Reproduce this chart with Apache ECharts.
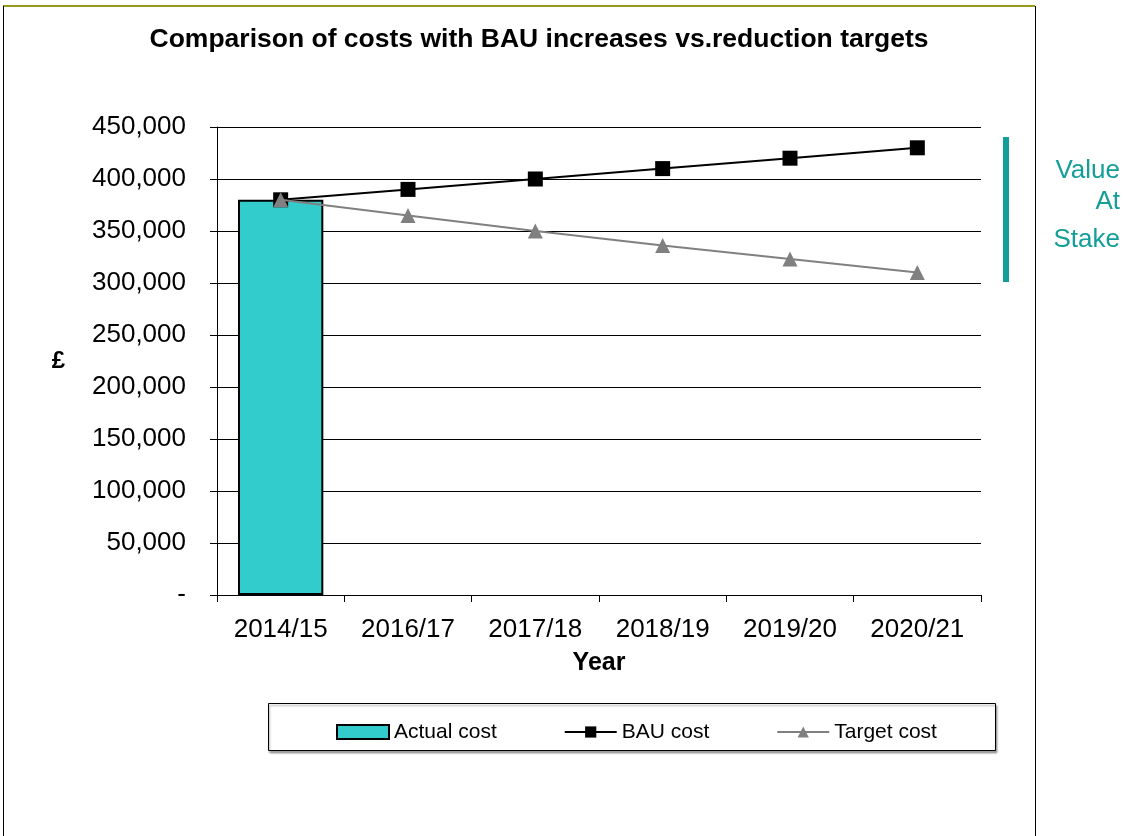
<!DOCTYPE html>
<html>
<head>
<meta charset="utf-8">
<script src="https://cdn.jsdelivr.net/npm/echarts@6/dist/echarts.min.js"></script>
<style>
  html, body { margin: 0; padding: 0; background: #fff; }
  #chart { width: 1123px; height: 836px; }
</style>
</head>
<body>
<div id="chart"></div>
<script>
const years = ['2014/15', '2016/17', '2017/18', '2018/19', '2019/20', '2020/21']
const actualCost = [380000, null, null, null, null, null]
const bauCost = [380000, 390000, 400000, 410000, 420000, 430000]
const targetCost = [380000, 365000, 350000, 336000, 323000, 310000]

const font = "'Liberation Sans', Arial, sans-serif"
const teal = '#139e99'

const chart = echarts.init(document.getElementById('chart'), null, { renderer: 'canvas' })

const option = {
  backgroundColor: '#fff',
  animation: false,
  textStyle: { fontFamily: font },
  title: {
    text: 'Comparison of costs with BAU increases vs.reduction targets',
    left: 534,
    textAlign: 'center',
    top: 21,
    textStyle: {
      fontFamily: font,
      fontSize: 26.5,
      fontWeight: 'bold',
      color: '#000'
    }
  },
  legend: {
    data: [
      { name: 'Actual cost', icon: 'rect' },
      'BAU cost',
      'Target cost'
    ],
    left: 331,
    top: 716,
    itemWidth: 52,
    itemHeight: 14,
    itemGap: 67,
    lineStyle: { width: 2 },
    textStyle: {
      fontFamily: font,
      fontSize: 21,
      lineHeight: 22,
      color: '#000'
    }
  },
  grid: {
    left: 217,
    right: 142,
    top: 127,
    bottom: 241,
    containLabel: false
  },
  xAxis: {
    type: 'category',
    data: years,
    boundaryGap: true,
    name: 'Year',
    nameLocation: 'middle',
    nameGap: 56,
    nameTextStyle: {
      fontFamily: font,
      fontSize: 25,
      fontWeight: 'bold',
      color: '#000'
    },
    axisLine: { lineStyle: { color: '#000', width: 1 } },
    axisTick: { show: true, alignWithLabel: false, length: 7, lineStyle: { color: '#000' } },
    axisLabel: {
      fontFamily: font,
      fontSize: 26,
      color: '#000',
      margin: 22
    },
    splitLine: { show: false }
  },
  yAxis: {
    type: 'value',
    min: 0,
    max: 450000,
    interval: 50000,
    name: '£',
    nameLocation: 'middle',
    nameRotate: 0,
    nameGap: 152,
    nameTextStyle: {
      fontFamily: font,
      fontSize: 24,
      fontWeight: 'bold',
      color: '#000'
    },
    axisLine: { show: true, lineStyle: { color: '#000', width: 1 } },
    axisTick: { show: true, length: 7, lineStyle: { color: '#000' } },
    axisLabel: {
      fontFamily: font,
      fontSize: 26,
      color: '#000',
      margin: 31,
      formatter: (v) => v === 0 ? '-' : v.toLocaleString('en-GB')
    },
    splitLine: { show: true, lineStyle: { color: '#000', width: 1 } }
  },
  series: [
    {
      name: 'Actual cost',
      type: 'bar',
      data: actualCost,
      barWidth: '67%',
      itemStyle: { color: '#33cccc', borderColor: '#000', borderWidth: 2 },
      z: 2
    },
    {
      name: 'BAU cost',
      type: 'line',
      data: bauCost,
      symbol: 'rect',
      symbolSize: 15,
      lineStyle: { color: '#000', width: 2 },
      itemStyle: { color: '#000' },
      z: 3
    },
    {
      name: 'Target cost',
      type: 'line',
      data: targetCost,
      symbol: 'triangle',
      symbolSize: 15,
      lineStyle: { color: '#808080', width: 2 },
      itemStyle: { color: '#808080' },
      z: 4
    }
  ],
  graphic: [
    // outer frame
    { type: 'line', shape: { x1: 3, y1: 6, x2: 1035, y2: 6 }, style: { stroke: '#9a9a1a', lineWidth: 2 } },
    { type: 'line', shape: { x1: 3.5, y1: 6, x2: 3.5, y2: 836 }, style: { stroke: '#000', lineWidth: 1 } },
    { type: 'line', shape: { x1: 1035.5, y1: 6, x2: 1035.5, y2: 836 }, style: { stroke: '#000', lineWidth: 1 } },
    // legend box
    {
      type: 'rect',
      z: -1,
      shape: { x: 268.5, y: 703.5, width: 727, height: 47 },
      style: { fill: '#fff', stroke: '#000', lineWidth: 1, shadowColor: 'rgba(0,0,0,0.35)', shadowOffsetX: 1, shadowOffsetY: 2, shadowBlur: 2 }
    },
    // value at stake annotation
    { type: 'rect', shape: { x: 1003, y: 137, width: 6, height: 145 }, style: { fill: teal } },
    { type: 'text', x: 1120, y: 171, style: { text: 'Value', fill: teal, font: "26px 'Liberation Sans', Arial, sans-serif", align: 'right', verticalAlign: 'middle' } },
    { type: 'text', x: 1120, y: 202, style: { text: 'At', fill: teal, font: "26px 'Liberation Sans', Arial, sans-serif", align: 'right', verticalAlign: 'middle' } },
    { type: 'text', x: 1120, y: 240, style: { text: 'Stake', fill: teal, font: "26px 'Liberation Sans', Arial, sans-serif", align: 'right', verticalAlign: 'middle' } }
  ]
}

chart.setOption(option)
</script>
</body>
</html>
